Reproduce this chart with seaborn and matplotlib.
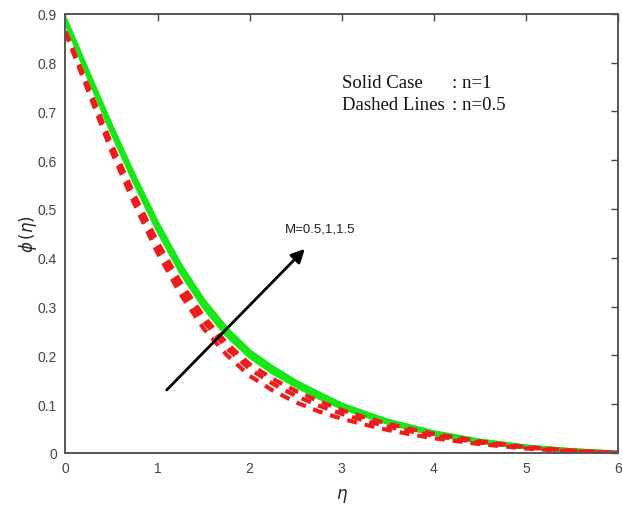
import numpy as np
import pandas as pd
import matplotlib
matplotlib.use("Agg")
import matplotlib.pyplot as plt
import seaborn as sns

# ---- data ----
eta = [0, 0.25, 0.5, 0.75, 1.0, 1.25, 1.5, 1.75, 2.0, 2.25, 2.5, 2.75, 3.0,
       3.25, 3.5, 3.75, 4.0, 4.5, 5.0, 5.5, 6.0]

# solid lines, n = 1  (M = 0.5, 1, 1.5)
solid_m05 = [0.886, 0.772, 0.660, 0.556, 0.458, 0.372, 0.300, 0.242, 0.198, 0.165, 0.138, 0.114, 0.093,
             0.077, 0.062, 0.050, 0.039, 0.023, 0.012, 0.005, 0.0]
solid_m10 = [0.887, 0.775, 0.665, 0.561, 0.464, 0.378, 0.306, 0.248, 0.203, 0.170, 0.142, 0.118, 0.096,
             0.079, 0.064, 0.052, 0.041, 0.024, 0.012, 0.005, 0.0]
solid_m15 = [0.888, 0.778, 0.669, 0.566, 0.470, 0.384, 0.312, 0.254, 0.208, 0.175, 0.146, 0.122, 0.099,
             0.082, 0.066, 0.054, 0.042, 0.025, 0.013, 0.005, 0.0]

# dashed lines, n = 0.5  (M = 0.5, 1, 1.5)
dashed_m05 = [0.862, 0.740, 0.618, 0.510, 0.410, 0.325, 0.255, 0.201, 0.158, 0.128, 0.104, 0.085, 0.070,
              0.058, 0.047, 0.038, 0.030, 0.018, 0.009, 0.003, 0.0]
dashed_m10 = [0.863, 0.745, 0.626, 0.520, 0.422, 0.338, 0.270, 0.215, 0.172, 0.142, 0.117, 0.097, 0.080,
              0.066, 0.054, 0.044, 0.035, 0.021, 0.011, 0.004, 0.0]
dashed_m15 = [0.864, 0.750, 0.633, 0.528, 0.432, 0.350, 0.280, 0.225, 0.182, 0.152, 0.127, 0.106, 0.088,
              0.073, 0.060, 0.049, 0.039, 0.024, 0.012, 0.005, 0.0]

x_ticks = [0, 1, 2, 3, 4, 5, 6]
y_ticks = [0, 0.1, 0.2, 0.3, 0.4, 0.5, 0.6, 0.7, 0.8, 0.9]
y_tick_labels = ["0", "0.1", "0.2", "0.3", "0.4", "0.5", "0.6", "0.7", "0.8", "0.9"]

legend_line1 = ("Solid Case", ": n=1")
legend_line2 = ("Dashed Lines", ": n=0.5")
arrow_label = "M=0.5,1,1.5"

# ---- plotting ----
sns.set_theme(style="white")
plt.rcParams["font.family"] = ["Liberation Sans", "DejaVu Sans"]

fig = plt.figure(figsize=(6.23, 5.10), dpi=100)
ax = fig.add_axes([0.105, 0.110, 0.887, 0.861])

green = "#19e619"
red = "#ee1c1c"

for vals in (solid_m05, solid_m10, solid_m15):
    sns.lineplot(x=eta, y=vals, ax=ax, color=green, linewidth=3.2,
                 solid_capstyle="round", solid_joinstyle="round")

for vals in (dashed_m05, dashed_m10, dashed_m15):
    sns.lineplot(x=eta, y=vals, ax=ax, color=red, linewidth=3.0,
                 linestyle=(0, (2.4, 1.9)))

ax.set_xlim(0, 6)
ax.set_ylim(0, 0.9)
ax.set_xticks(x_ticks)
ax.set_xticklabels([str(t) for t in x_ticks])
ax.set_yticks(y_ticks)
ax.set_yticklabels(y_tick_labels)

ax.tick_params(direction="in", top=True, right=True, length=5, width=1,
               color="#444444", labelsize=10, labelcolor="#444444", pad=6)
for sp in ax.spines.values():
    sp.set_color("#555555")
    sp.set_linewidth(1.4)

ax.set_xlabel(r"$\eta$", fontsize=12, labelpad=8, family=["DejaVu Serif"])
ax.set_ylabel(r"$\phi\,(\eta)$", fontsize=12, labelpad=-1, family=["DejaVu Serif"])

# arrow showing increasing M
ax.annotate("", xy=(2.60, 0.418), xytext=(1.10, 0.129),
            arrowprops=dict(arrowstyle="-|>", color="black", lw=2.0,
                            mutation_scale=20, shrinkA=0, shrinkB=0))
ax.text(2.38, 0.459, arrow_label, fontsize=9.5, color="#222222",
        ha="left", va="center")

serif = ["Liberation Serif", "DejaVu Serif"]
fs = 13.5
ax.text(3.0, 0.760, legend_line1[0], fontsize=fs, family=serif, ha="left", va="center", color="#111111")
ax.text(4.20, 0.760, legend_line1[1], fontsize=fs, family=serif, ha="left", va="center", color="#111111")
ax.text(3.0, 0.715, legend_line2[0], fontsize=fs, family=serif, ha="left", va="center", color="#111111")
ax.text(4.20, 0.715, legend_line2[1], fontsize=fs, family=serif, ha="left", va="center", color="#111111")

fig.savefig("out.png", dpi=100)
